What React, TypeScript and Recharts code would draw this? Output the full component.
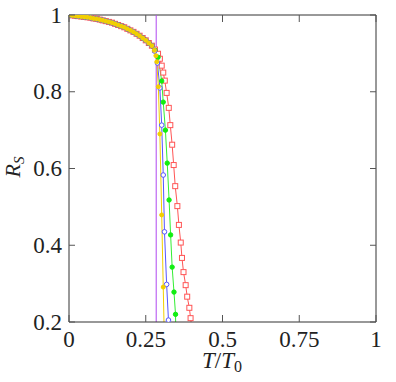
import React from 'react'
import { ComposedChart, Line, XAxis, YAxis, ReferenceLine } from 'recharts'

// common low-temperature part, all four runs sit on it
const onsetT = [0, 0.01, 0.02, 0.03, 0.04, 0.05, 0.06, 0.07, 0.08, 0.09, 0.1, 0.11, 0.12, 0.13, 0.14, 0.15, 0.16, 0.17, 0.18, 0.19, 0.2, 0.21, 0.22, 0.23, 0.24, 0.25, 0.26, 0.27]
const onsetR = [1, 0.999, 0.998, 0.997, 0.996, 0.995, 0.994, 0.993, 0.991, 0.99, 0.988, 0.986, 0.984, 0.982, 0.98, 0.977, 0.974, 0.971, 0.968, 0.964, 0.96, 0.956, 0.951, 0.946, 0.94, 0.934, 0.927, 0.92]

const redT = [0.28, 0.29, 0.296, 0.302, 0.307, 0.312, 0.318, 0.325, 0.33, 0.336, 0.341, 0.346, 0.353, 0.358, 0.364, 0.368, 0.373, 0.38, 0.385, 0.392, 0.396, 0.401]
const redR = [0.91, 0.899, 0.886, 0.868, 0.85, 0.829, 0.797, 0.758, 0.713, 0.662, 0.609, 0.554, 0.502, 0.453, 0.407, 0.367, 0.33, 0.296, 0.266, 0.237, 0.21, 0.18]

const greenT = [0.28, 0.29, 0.302, 0.307, 0.314, 0.32, 0.326, 0.331, 0.336, 0.342, 0.347, 0.349]
const greenR = [0.908, 0.89, 0.828, 0.773, 0.7, 0.614, 0.518, 0.427, 0.343, 0.278, 0.22, 0.12]

const blueT = [0.279, 0.288, 0.296, 0.302, 0.307, 0.311, 0.318, 0.324, 0.329]
const blueR = [0.906, 0.875, 0.81, 0.713, 0.583, 0.435, 0.298, 0.205, 0.11]

const yellowT = [0.278, 0.283, 0.286, 0.291, 0.296, 0.302, 0.307, 0.312]
const yellowR = [0.908, 0.894, 0.878, 0.813, 0.69, 0.479, 0.291, 0.1]

const criticalT = 0.284

const xTicks = [0, 0.25, 0.5, 0.75, 1]
const xTickLabels = ['0', '0.25', '0.5', '0.75', '1']
const yTicks = [0.2, 0.4, 0.6, 0.8, 1]
const yTickLabels = ['0.2', '0.4', '0.6', '0.8', '1']

const W = 396
const H = 382
const TOP = 15
const RIGHT = 376
const FONT = '"Liberation Serif", "Times New Roman", serif'
const FRAME = '#333'
const TICK = '#555'

const toPoints = (t: number[], r: number[]) => t.map((v, i) => ({ t: v, r: r[i] }))

const red = toPoints([...onsetT, ...redT], [...onsetR, ...redR])
const green = toPoints([...onsetT, ...greenT], [...onsetR, ...greenR])
const blue = toPoints([...onsetT, ...blueT], [...onsetR, ...blueR])
const yellow = toPoints([...onsetT, ...yellowT], [...onsetR, ...yellowR])

const XTick = ({ x, y, index }: any) => (
  <g>
    <line x1={x} x2={x} y1={y} y2={y - 7} stroke={TICK} />
    <line x1={x} x2={x} y1={TOP} y2={TOP + 7} stroke={TICK} />
    <text x={x} y={y + 25} textAnchor="middle" fontFamily={FONT} fontSize={23} fill="#222">
      {xTickLabels[index]}
    </text>
  </g>
)

const YTick = ({ x, y, index }: any) => (
  <g>
    <line x1={x} x2={x + 6} y1={y} y2={y} stroke={TICK} />
    <line x1={RIGHT} x2={RIGHT - 6} y1={y} y2={y} stroke={TICK} />
    <text x={x - 7} y={y + 7.5} textAnchor="end" fontFamily={FONT} fontSize={23} fill="#222">
      {yTickLabels[index]}
    </text>
  </g>
)

const squareDot = (color: string) => (p: any) => (
  <rect key={`s${p.index}`} x={p.cx - 2.5} y={p.cy - 2.5} width={5} height={5} fill="#fff" stroke={color} strokeWidth={1} />
)
const circleDot = (color: string, r: number, filled: boolean) => (p: any) => (
  <circle key={`c${p.index}`} cx={p.cx} cy={p.cy} r={r} fill={filled ? color : '#fff'} stroke={color} strokeWidth={1} />
)

const App = () => {
  return (
    <div style={{ position: 'absolute', left: 0, top: 0 }}>
      <ComposedChart width={W} height={H} margin={{ top: TOP, right: W - RIGHT, bottom: 0, left: 0 }}>
        <XAxis
          dataKey="t"
          type="number"
          domain={[0, 1]}
          ticks={xTicks}
          allowDataOverflow
          height={60}
          tickSize={0}
          tickMargin={0}
          tickLine={false}
          axisLine={{ stroke: FRAME, strokeWidth: 1.2 }}
          tick={XTick}
        />
        <YAxis
          dataKey="r"
          type="number"
          domain={[0.2, 1]}
          ticks={yTicks}
          allowDataOverflow
          width={69}
          tickSize={0}
          tickMargin={0}
          tickLine={false}
          axisLine={{ stroke: FRAME }}
          tick={YTick}
        />
        <ReferenceLine y={1} stroke={FRAME} />
        <ReferenceLine x={1} stroke={FRAME} />
        <Line data={red} dataKey="r" type="linear" stroke="#ff5555" strokeWidth={1} dot={squareDot('#ff5555')} activeDot={false} isAnimationActive={false} />
        <Line data={green} dataKey="r" type="linear" stroke="#33ee33" strokeWidth={1} dot={circleDot('#11ee11', 2.2, true)} activeDot={false} isAnimationActive={false} />
        <Line data={blue} dataKey="r" type="linear" stroke="#5555ff" strokeWidth={1} dot={circleDot('#5555ff', 2.3, false)} activeDot={false} isAnimationActive={false} />
        <Line data={yellow} dataKey="r" type="linear" stroke="#f2cf00" strokeWidth={1} dot={circleDot('#f2cf00', 2, true)} activeDot={false} isAnimationActive={false} />
        <ReferenceLine x={criticalT} stroke="#b048f0" strokeWidth={1} />
      </ComposedChart>
      <svg width={W} height={H} style={{ position: 'absolute', left: 0, top: 0, pointerEvents: 'none' }}>
        <text x={222} y={368} textAnchor="middle" fontFamily={FONT} fontSize={23} fill="#222">
          <tspan fontStyle="italic">T</tspan>/<tspan fontStyle="italic">T</tspan>
          <tspan fontSize={16} dy={4}>0</tspan>
        </text>
        <text x={-167} y={20} transform="rotate(-90)" textAnchor="middle" fontFamily={FONT} fontSize={22} fill="#222">
          <tspan fontStyle="italic">R</tspan>
          <tspan fontStyle="italic" fontSize={15} dy={4}>S</tspan>
        </text>
      </svg>
    </div>
  )
}

export default App
